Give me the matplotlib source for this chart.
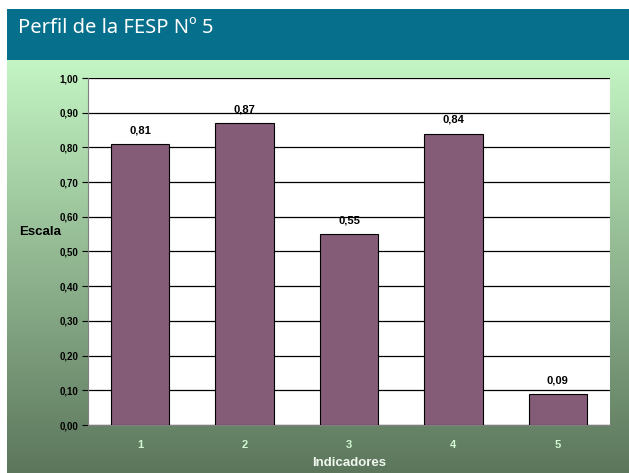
import numpy as np
import matplotlib
matplotlib.use("Agg")
import matplotlib.pyplot as plt
from matplotlib.patches import Rectangle

categories = ["1", "2", "3", "4", "5"]
values = [0.81, 0.87, 0.55, 0.84, 0.09]
yticks = [0.0, 0.1, 0.2, 0.3, 0.4, 0.5, 0.6, 0.7, 0.8, 0.9, 1.0]
title = "Perfil de la FESP Nº 5"

W, H = 629, 473
fig = plt.figure(figsize=(W / 100, H / 100), dpi=100)
fig.patch.set_facecolor("white")

# background gradient
bg = fig.add_axes([7 / W, 0, 1 - 7 / W, 1 - 60 / H])
bg.set_axis_off()
top = np.array([196, 245, 196]) / 255
bot = np.array([92, 118, 92]) / 255
t = np.linspace(0, 1, 256)[:, None]
grad = top * (1 - t) + bot * t
bg.imshow(grad[:, None, :].repeat(2, axis=1), aspect="auto", extent=[0, 1, 0, 1])

# header band
hd = fig.add_axes([7 / W, 1 - 60 / H, 1 - 7 / W, 51 / H])
hd.set_axis_off()
hd.add_patch(Rectangle((0, 0), 1, 1, color="#066f8c", transform=hd.transAxes))
hd.text(0.017, 0.63, title, color="white", fontsize=14.5, family="Noto Sans",
        va="center", ha="left", transform=hd.transAxes)

ax = fig.add_axes([88 / W, 1 - 425 / H, (610 - 88) / W, (425 - 78) / H])
ax.set_facecolor("white")
x = np.arange(len(categories))
ax.bar(x, values, width=0.56, color="#845c78", edgecolor="black", linewidth=0.8, zorder=3)
ax.set_ylim(0, 1.0)
ax.set_xlim(-0.5, len(categories) - 0.5)
ax.set_yticks(yticks)
ax.set_yticklabels([f"{v:.2f}".replace(".", ",") for v in yticks],
                   fontsize=7, fontweight="bold", family="Liberation Sans")
ax.yaxis.grid(True, color="black", linewidth=0.9, zorder=0)
ax.set_xticks(x)
ax.set_xticklabels(categories, fontsize=8, fontweight="bold", family="Liberation Sans",
                   color="#d2f7d2")
ax.tick_params(axis="x", length=0, pad=11)
ax.tick_params(axis="y", length=4, width=0.8, pad=3)
for s in ["top", "right"]:
    ax.spines[s].set_visible(False)
ax.spines["left"].set_color("#808080")
ax.spines["bottom"].set_color("#808080")
for xi, v in zip(x, values):
    ax.text(xi, v + 0.025, f"{v:.2f}".replace(".", ","), ha="center", va="bottom",
            fontsize=8, fontweight="bold", family="Liberation Sans", zorder=4)
ax.set_xlabel("Indicadores", fontsize=9.5, fontweight="bold", family="Liberation Sans",
              color="#f0f8f0", labelpad=5)
fig.text(40 / W, 1 - 232 / H, "Escala", fontsize=9.5, fontweight="bold",
         family="Liberation Sans", ha="center", va="center")

fig.savefig("out.png", dpi=100)
